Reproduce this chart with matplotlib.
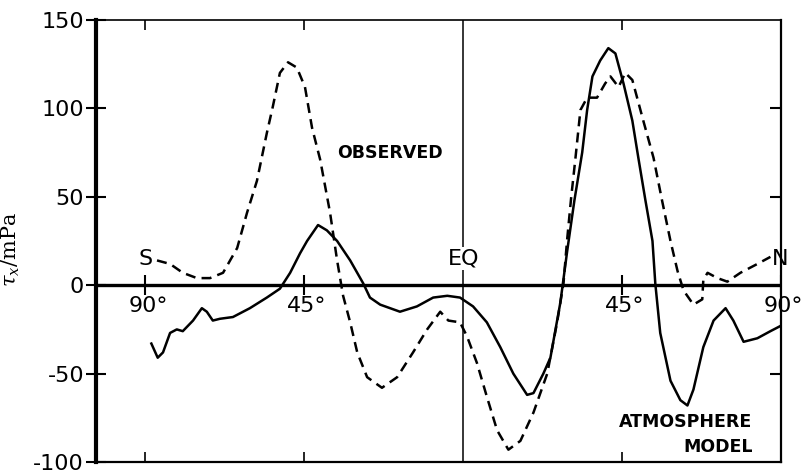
import matplotlib.pyplot as plt
import numpy as np

# latitude (deg, S negative) and zonal wind stress tau_x (mPa)
obs_lat = [-86.7, -83, -79.4, -75.4, -71.7, -68, -64, -61.2, -58.4, -55.6,
           -53.9, -51.9, -49.6, -47.1, -44.8, -42.8, -40.5, -37.7, -35.7, -34,
           -32, -30, -27.2, -23, -18.7, -14.2, -10.2, -6.5, -4.2, -0.9,
           1.1, 3.9, 6.7, 9.6, 12.8, 16.2, 19.9, 23.8, 26.6, 28.4,
           29.4, 30.6, 31.8, 33.2, 35.1, 37.9, 40.2, 41.7, 44, 45.9,
           47.9, 51.0, 53.9, 56.3, 58.7, 60.7, 62.4, 65.2, 67.7, 68,
           69.2, 72, 74.8, 78.5, 83.3, 87]
obs_tau = [14, 12, 7, 4, 4, 7, 21, 41, 59, 86,
           101, 120, 126, 123, 112, 89, 71, 41, 14, -6,
           -21, -38, -52, -58, -52, -38, -25, -15, -20, -21,
           -29, -44, -63, -82, -93, -88, -72, -50, -21, 1,
           25, 50, 72, 99, 106, 106, 114, 118, 112, 120,
           116, 93, 72, 48, 25, 8, -3, -11, -8, 3,
           7, 4, 2, 7, 12, 16]

mod_lat = [-88.3, -86.5, -85, -83, -81.1, -79.4, -76.5, -74, -72.6, -70.9,
           -68.9, -65.2, -60.4, -55.6, -51.9, -49, -46.2, -44.2, -41.1, -38.6,
           -35.7, -32, -28.3, -26.4, -23.5, -17.9, -13.1, -8.5, -4.5, -0.9,
           2.8, 6.7, 10.5, 14.2, 18.1, 19.9, 22.7, 24.7, 27.5, 29.5,
           31.5, 33.7, 35.1, 36.6, 38.8, 41.1, 43.1, 45.4, 47.9, 49.6,
           51.6, 53.6, 54.4, 55.8, 58.7, 61.5, 63.5, 65.2, 68, 70.9,
           74.3, 76.5, 79.4, 83.3, 87, 89.9]
mod_tau = [-33, -41, -38, -27, -25, -26, -20, -13, -15, -20,
           -19, -18, -13, -7, -2, 7, 18, 25, 34, 31,
           25, 14, 1, -7, -11, -15, -12, -7, -6, -7,
           -12, -21, -35, -50, -62, -61, -50, -41, -10, 20,
           48, 75, 99, 118, 127, 134, 131, 114, 93, 72,
           48, 25, 1, -27, -54, -65, -68, -59, -35, -20,
           -13, -20, -32, -30, -26, -23]

lat_ticks = [-90, -45, 45, 90]
lat_labels = ["90°", "45°", "45°", "90°"]
y_ticks = [-100, -50, 0, 50, 100, 150]

plt.rcParams["mathtext.fontset"] = "dejavuserif"
plt.rcParams["axes.unicode_minus"] = False

fig = plt.figure(figsize=(8.06, 4.72), dpi=100)
ax = fig.add_axes([0.119, 0.021, 0.850, 0.937])

ax.plot(obs_lat, obs_tau, color="black", lw=1.8, dashes=(4, 2.5))
ax.plot(mod_lat, mod_tau, color="black", lw=1.8)

# zero line acting as the latitude axis, and the equator
ax.axhline(0, color="black", lw=2.4, zorder=1)
ax.axvline(0, color="black", lw=1.1, zorder=1)
ax.plot(lat_ticks, np.zeros(len(lat_ticks)), ls="none", marker="|",
        ms=15, mew=1.5, color="black")
for x, lab in zip(lat_ticks, lat_labels):
    ax.annotate(lab, (x, 0), xytext=(2, -8), textcoords="offset points",
                ha="center", va="top", fontsize=16, annotation_clip=False)

ax.set_xlim(-104, 90)
ax.set_ylim(-100, 150)

ax.set_xticks([-90, -45, 45])
ax.tick_params(axis="x", top=True, bottom=True, direction="in", length=7,
               width=1.2, labelbottom=False)
ax.set_yticks(y_ticks)
ax.tick_params(axis="y", direction="inout", length=15, width=1.5,
               labelsize=16, pad=1)

ax2 = ax.twinx()
ax2.set_ylim(-100, 150)
ax2.set_yticks([-50, 50, 100])
ax2.tick_params(axis="y", direction="in", length=8, width=1.5,
                labelright=False)
ax2.spines[:].set_visible(False)

ax.spines["left"].set_linewidth(3)
ax.spines["top"].set_linewidth(1.2)
ax.spines["right"].set_linewidth(1.6)
ax.spines["bottom"].set_linewidth(1.6)

ax.set_ylabel(r"$\tau_x$/mPa", fontsize=15, fontfamily="serif")
ax.yaxis.set_label_coords(-0.108, 0.48)

ax.text(-90, 15, "S", ha="center", va="center", fontsize=16)
ax.text(89.8, 15, "N", ha="center", va="center", fontsize=16)
ax.text(0, 15, "EQ", ha="center", va="center", fontsize=16,
        bbox=dict(facecolor="white", edgecolor="none", pad=1))
ax.text(-20.7, 75, "OBSERVED", ha="center", va="center", fontsize=12.5,
        fontweight="bold")
ax.text(81.9, -77.5, "ATMOSPHERE", ha="right", va="center", fontsize=12.5,
        fontweight="bold")
ax.text(81.9, -91.6, "MODEL", ha="right", va="center", fontsize=12.5,
        fontweight="bold")

fig.savefig("out.png", dpi=100)
